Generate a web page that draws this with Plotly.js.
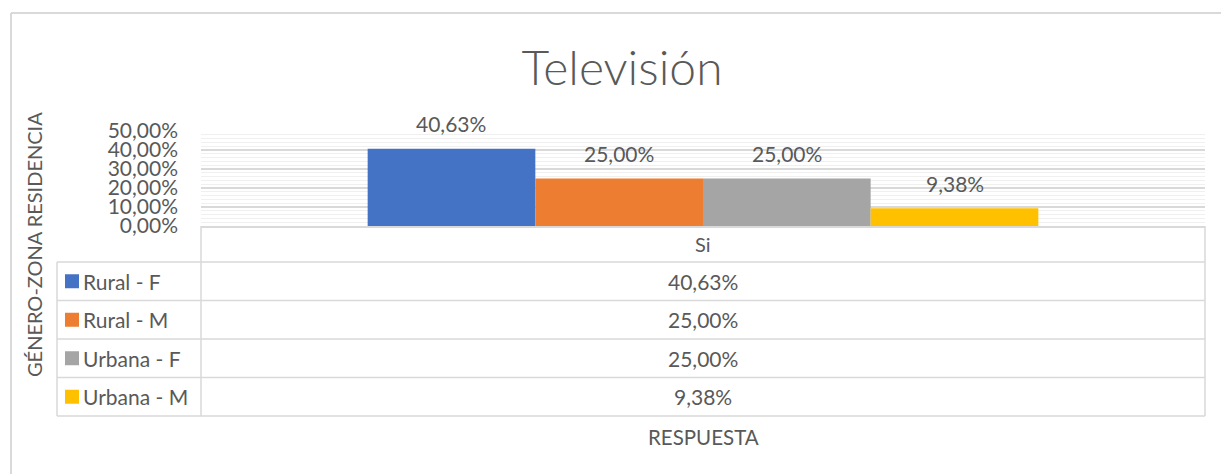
<!DOCTYPE html>
<html>
<head>
<meta charset="utf-8">
<script src="https://cdn.plot.ly/plotly-3.0.1.min.js"></script>
<style>
  html, body { margin: 0; padding: 0; background: #ffffff; }
  #chart { width: 1221px; height: 474px; }
</style>
</head>
<body>
<div id="chart"></div>
<script>
// ---- data ----
const categories = ["Si"];
const seriesNames = ["Rural - F", "Rural - M", "Urbana - F", "Urbana - M"];
const seriesValues = [[0.4063], [0.25], [0.25], [0.0938]];
const seriesColors = ["#4472C4", "#ED7D31", "#A5A5A5", "#FFC000"];
const tickVals = [0, 0.1, 0.2, 0.3, 0.4, 0.5];
const chartTitle = "Televisión";
const yTitle = "GÉNERO-ZONA RESIDENCIA";
const xTitle = "RESPUESTA";

// ---- layout geometry (pixels) ----
const W = 1221, H = 474;
const plotL = 201, plotR = 1205, plotTop = 131, plotBot = 226;
const tableL = 57;
const rowLines = [262, 300.5, 339, 377.5, 416];
const bargap = 0.332;
const txt = "#595959";
const gridC = "#D9D9D9";
const FONT = "Lato, 'Open Sans', sans-serif";
const FS = 21;

const px = x => x / W;
const py = y => 1 - y / H;

const traces = seriesNames.map((name, i) => ({
  type: "bar",
  name: name,
  x: categories,
  y: seriesValues[i],
  marker: { color: seriesColors[i] },
  hoverinfo: "none",
  showlegend: false
}));

const shapes = [];
const annotations = [];
const line = (x0, y0, x1, y1, c, w) => shapes.push({
  type: "line", xref: "paper", yref: "paper",
  x0: px(x0), y0: py(y0), x1: px(x1), y1: py(y1),
  line: { color: c || gridC, width: w || 1.5 }
});

// outer chart border (top and left visible)
line(11, 13, 1221, 13, "#D9D9D9", 2);
line(11, 13, 11, 474, "#D9D9D9", 2);

// data table grid
rowLines.forEach(y => line(tableL, y, plotR, y));
line(tableL, rowLines[0], tableL, rowLines[rowLines.length - 1]);
line(plotL, plotBot, plotL, rowLines[rowLines.length - 1]);
line(plotR, plotBot, plotR, rowLines[rowLines.length - 1]);

const midX = (plotL + plotR) / 2;
// header row with category
categories.forEach(c => annotations.push({
  xref: "paper", yref: "paper", x: px(midX), y: py((plotBot + rowLines[0]) / 2),
  text: c, showarrow: false, xanchor: "center", yanchor: "middle",
  font: { family: FONT, size: FS - 1, color: txt }
}));

const fmt = v => (v * 100).toFixed(2).replace(".", ",") + "%";

seriesNames.forEach((name, i) => {
  const yc = (rowLines[i] + rowLines[i + 1]) / 2;
  shapes.push({
    type: "rect", xref: "paper", yref: "paper",
    x0: px(65), x1: px(79), y0: py(yc - 7), y1: py(yc + 7),
    fillcolor: seriesColors[i], line: { width: 0 }
  });
  annotations.push({
    xref: "paper", yref: "paper", x: px(81), y: py(yc),
    text: name, showarrow: false, xanchor: "left", yanchor: "middle",
    font: { family: FONT, size: FS, color: txt }
  });
  annotations.push({
    xref: "paper", yref: "paper", x: px(midX), y: py(yc),
    text: fmt(seriesValues[i][0]), showarrow: false, xanchor: "center", yanchor: "middle",
    font: { family: FONT, size: FS, color: txt }
  });
});

// bar data labels
const barW = (plotR - plotL) * (1 - bargap) / seriesNames.length;
seriesNames.forEach((name, i) => {
  categories.forEach((c, k) => annotations.push({
    xref: "x", yref: "y", x: c, y: seriesValues[i][k],
    xshift: (i - (seriesNames.length - 1) / 2) * barW, yshift: 25,
    text: fmt(seriesValues[i][k]), showarrow: false, xanchor: "center", yanchor: "middle",
    font: { family: FONT, size: FS, color: txt }
  }));
});

// axis titles
annotations.push({
  xref: "paper", yref: "paper", x: px(34), y: py(245),
  text: yTitle, textangle: -90, showarrow: false, xanchor: "center", yanchor: "middle",
  font: { family: FONT, size: 20, color: txt }
});
annotations.push({
  xref: "paper", yref: "paper", x: px(midX), y: py(437),
  text: xTitle, showarrow: false, xanchor: "center", yanchor: "middle",
  font: { family: FONT, size: 20.5, color: txt }
});

const layout = {
  width: W, height: H,
  margin: { l: 0, r: 0, t: 0, b: 0 },
  paper_bgcolor: "#ffffff", plot_bgcolor: "#ffffff",
  separators: ",.",
  barmode: "group", bargap: bargap, bargroupgap: 0,
  title: {
    text: chartTitle, xref: "paper", yref: "paper",
    x: px(622), y: py(68), xanchor: "center", yanchor: "middle",
    font: { family: FONT, size: 48, weight: 300, color: txt }
  },
  xaxis: {
    domain: [px(plotL), px(plotR)],
    range: [-0.5, 0.5],
    showticklabels: false, ticks: "",
    showgrid: false, zeroline: false,
    showline: true, linecolor: gridC, linewidth: 1.5,
    fixedrange: true
  },
  yaxis: {
    domain: [py(plotBot), py(plotTop)],
    range: [0, 0.5],
    tickvals: tickVals, tickformat: ".2%",
    ticks: "", ticklabelstandoff: 22,
    showgrid: true, gridcolor: gridC, gridwidth: 1.5,
    minor: { dtick: 0.02, showgrid: true, gridcolor: "#F0F0F0", gridwidth: 1 },
    zeroline: false, showline: false,
    tickfont: { family: FONT, size: FS, color: txt },
    fixedrange: true
  },
  shapes: shapes,
  annotations: annotations
};

Plotly.newPlot("chart", traces, layout, { displayModeBar: false, staticPlot: true });
</script>
</body>
</html>
